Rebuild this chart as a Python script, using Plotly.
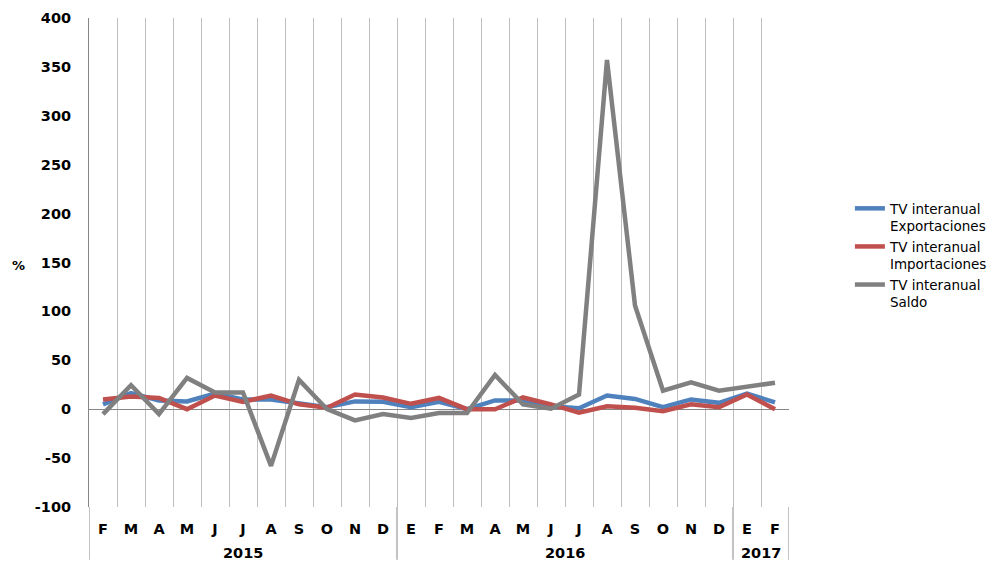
import plotly.graph_objects as go

months = ["F", "M", "A", "M", "J", "J", "A", "S", "O", "N", "D",
          "E", "F", "M", "A", "M", "J", "J", "A", "S", "O", "N", "D",
          "E", "F"]
years = ["2015", "2016", "2017"]
year_counts = [11, 12, 2]
y_ticks = [-100, -50, 0, 50, 100, 150, 200, 250, 300, 350, 400]
y_tick_labels = ["-100", "-50", "0", "50", "100", "150", "200", "250", "300", "350", "400"]

exportaciones = [5, 16.5, 9, 8, 16, 10, 10, 6, 2, 8, 7.5,
                 2, 7.5, 0, 9, 9, 3, 1, 14, 10.5, 2, 10, 6.5,
                 16, 7]
importaciones = [10, 13, 11.5, 0, 14, 7.5, 14, 5, 1.5, 15, 12,
                 5.5, 11.5, 0, 0, 12, 5, -3.5, 3, 1.5, -2, 5, 2,
                 15, 0]
saldo = [-5, 24.5, -5, 32, 17, 17, -58, 30, 0, -11.5, -5,
         -9, -4, -4, 35, 5, 0.5, 15, 357, 106, 19, 27.5, 19,
         22.5, 27]

names = ["TV interanual<br>Exportaciones", "TV interanual<br>Importaciones", "TV interanual<br>Saldo"]
colors = ["#4F81BD", "#C0504D", "#808080"]

x = list(range(len(months)))

fig = go.Figure()
for name, vals, col in zip(names, [exportaciones, importaciones, saldo], colors):
    fig.add_trace(go.Scatter(x=x, y=vals, mode="lines", name=name,
                             line=dict(color=col, width=4.5)))

tick_font = dict(family="DejaVu Sans", size=14.5, color="#000000", weight="bold")

# group dividers and year labels
bounds = [-0.5]
for c in year_counts:
    bounds.append(bounds[-1] + c)
for b in bounds:
    fig.add_shape(type="line", xref="x", yref="paper", x0=b, x1=b, y0=0, y1=-0.108,
                  line=dict(color="#868686", width=1))
for i, yr in enumerate(years):
    fig.add_annotation(x=(bounds[i] + bounds[i + 1]) / 2, xref="x", y=-0.094, yref="paper",
                       text=yr, showarrow=False, font=tick_font, yanchor="middle")

fig.add_annotation(x=-0.101, xref="paper", xanchor="center", y=147, yref="y", text="%",
                   showarrow=False, font=dict(family="DejaVu Sans", size=13, color="#000", weight="bold"))

fig.update_layout(
    width=1004, height=565,
    margin=dict(l=81, r=223, t=10, b=66, autoexpand=False),
    paper_bgcolor="white", plot_bgcolor="white",
    showlegend=True,
    legend=dict(x=1.087, y=0.642, xanchor="left", yanchor="top",
                font=dict(family="DejaVu Sans", size=13.5, color="#000"),
                valign="top", tracegroupgap=0, itemwidth=30),
    xaxis=dict(range=[-0.5, len(months) - 0.5], tickmode="array", tickvals=x, ticktext=months,
               tickfont=tick_font, showgrid=False, zeroline=False, showline=False, ticks="",
               ticklabelstandoff=11, automargin=False,
               minor=dict(tickmode="linear", tick0=-0.5, dtick=1, showgrid=True,
                          gridcolor="#BEBEBE", gridwidth=1, ticks="")),
    yaxis=dict(range=[-100, 400], tickmode="array", tickvals=y_ticks, ticktext=y_tick_labels,
               tickfont=tick_font, showgrid=False, zeroline=True, zerolinecolor="#868686",
               zerolinewidth=1, showline=True, linecolor="#868686", linewidth=1,
               ticks="", ticklabelstandoff=14, automargin=False),
)

fig.write_html("out.html")
